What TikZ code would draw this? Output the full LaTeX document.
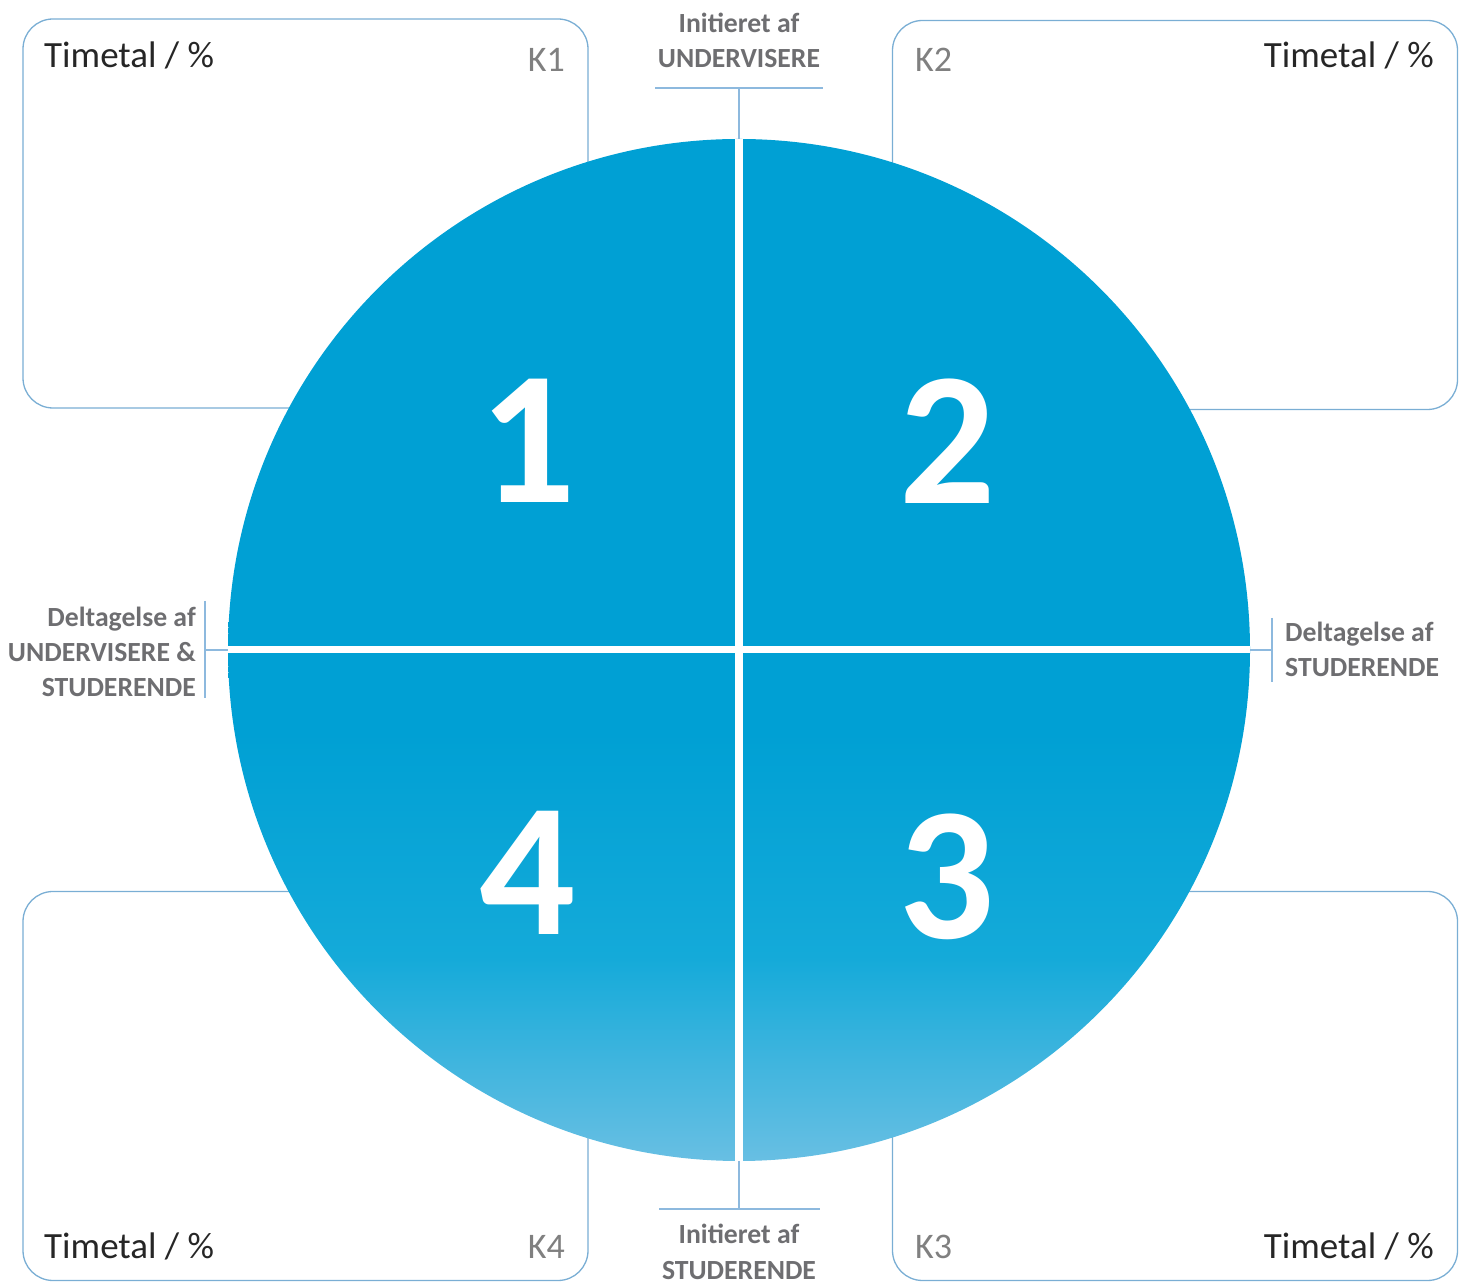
\documentclass[tikz,border=0pt]{standalone}
\usepackage{fontspec}
\setmainfont{Carlito}
\usepackage{tikz}
\usetikzlibrary{positioning}
\definecolor{wheeltop}{RGB}{0,160,212}
\definecolor{wheelmid}{RGB}{20,170,217}
\definecolor{wheelbot}{RGB}{104,191,227}
\definecolor{framecol}{RGB}{122,174,212}
\definecolor{tickcol}{RGB}{141,185,222}
\definecolor{labelgray}{RGB}{110,110,113}
\pgfdeclareverticalshading{wheelshade}{100bp}{color(0bp)=(wheelbot); color(25bp)=(wheelbot); color(35bp)=(wheelmid); color(46bp)=(wheeltop); color(100bp)=(wheeltop)}
\tikzset{
    kbox/.style={draw=framecol, line width=1.3pt, rounded corners=30pt, minimum width=565pt, minimum height=389pt, inner sep=0pt}, % de fire felter
    timetal/.style={font=\fontsize{37}{44}\selectfont, text=black!85, inner sep=0pt},
    klabel/.style={font=\fontsize{36}{44}\selectfont, text=black!50, inner sep=0pt},
    axis label/.style={font=\bfseries\fontsize{27.7}{35}\selectfont, text=labelgray, inner sep=0pt},
    quadnum/.style={font=\bfseries\fontsize{190}{200}\selectfont, text=white, inner sep=0pt},
    tick/.style={draw=tickcol, line width=2.4pt}
}

\begin{document}
\begin{tikzpicture}[x=1pt, y=1pt]
    \useasboundingbox (0,0) rectangle (1465,1283);

    % felterne bag cirklen
    \node[kbox] (k1box) at (305.5,1069.5) {};
    \node[kbox] (k2box) at (1175,1068) {};
    \node[kbox] (k4box) at (305.5,197) {};
    \node[kbox] (k3box) at (1175,197) {};

    \node[timetal, anchor=base west] (t1) at (44,1215) {Timetal / \%};
    \node[klabel, anchor=base east] (kk1) at (565,1211) {K1};
    \node[timetal, anchor=base east] (t2) at (1434,1215) {Timetal / \%};
    \node[klabel, anchor=base west] (kk2) at (915,1211) {K2};
    \node[timetal, anchor=base west] (t4) at (44,25) {Timetal / \%};
    \node[klabel, anchor=base east] (kk4) at (565,25) {K4};
    \node[timetal, anchor=base east] (t3) at (1434,25) {Timetal / \%};
    \node[klabel, anchor=base west] (kk3) at (915,25) {K3};

    % cirklen
    \node[circle, minimum size=1022pt, inner sep=0pt, shading=wheelshade] (wheel) at (739,633) {};
    \draw[white, line width=8pt] (wheel.north) -- (wheel.south);
    \draw[white, line width=7pt] (wheel.west) -- (wheel.east);

    \node[quadnum] (q1) at (528,842) {1};
    \node[quadnum] (q2) at (948,842) {2};
    \node[quadnum] (q4) at (528,410) {4};
    \node[quadnum] (q3) at (947,406) {3};

    % akse-tekster (base = sidste linje)
    \node[axis label, align=center, anchor=base] (top) at (739,1215) {Initieret af\\UNDERVISERE};
    \node[axis label, align=center, anchor=base] (bottom) at (739,4) {Initieret af\\STUDERENDE};
    \node[axis label, align=right, anchor=base east] (left) at (196,586) {Deltagelse af\\UNDERVISERE \&\\STUDERENDE};
    \node[axis label, align=left, anchor=base west] (right) at (1285,606) {Deltagelse af\\STUDERENDE};

    \coordinate (topbar) at (739,1195);
    \coordinate (botbar) at (739,74);
    \coordinate (leftbar) at (205,633);
    \coordinate (rightbar) at (1272,633);

    \draw[tick] (655,1195) -- (823,1195);
    \draw[tick] (topbar) -- (wheel.north);
    \draw[tick] (659,74) -- (820,74);
    \draw[tick] (botbar) -- (wheel.south);
    \draw[tick] (205,682) -- (205,585);
    \draw[tick] (leftbar) -- (wheel.west);
    \draw[tick] (1272,665) -- (1272,601);
    \draw[tick] (rightbar) -- (wheel.east);
\end{tikzpicture}
\end{document}
